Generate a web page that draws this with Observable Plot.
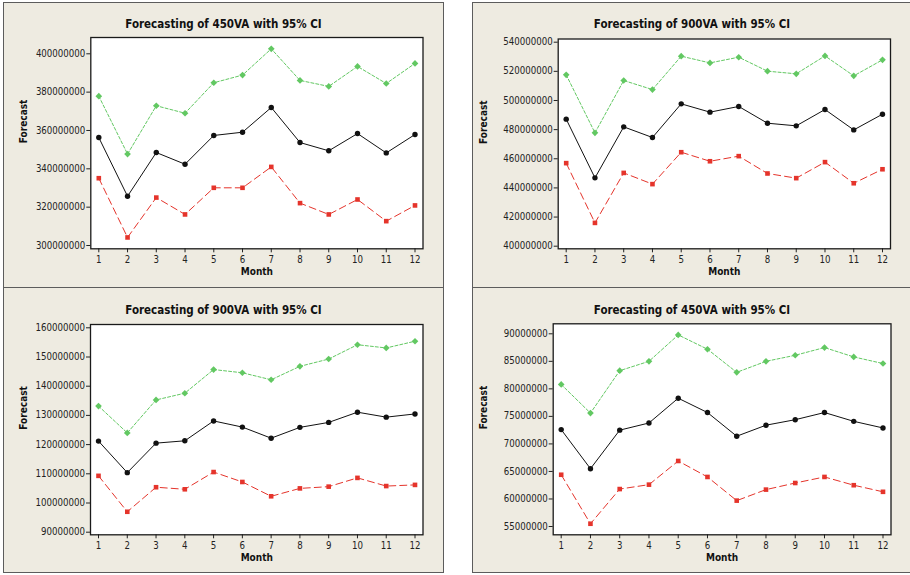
<!DOCTYPE html>
<html>
<head>
<meta charset="utf-8">
<script src="https://cdn.jsdelivr.net/npm/d3@7"></script>
<script src="https://cdn.jsdelivr.net/npm/@observablehq/plot@0.6"></script>
<style>
  html, body { margin: 0; padding: 0; background: #ffffff; }
  body { position: relative; width: 910px; height: 575px; overflow: hidden;
         font-family: "DejaVu Sans Condensed", "DejaVu Sans", sans-serif; }
  .panel { position: absolute; box-sizing: border-box; background: #eeebe1;
           border: 1.5px solid #5c5c5c; }
  .title { position: absolute; left: 0; right: 0; text-align: center; line-height: 14px;
           font-weight: bold; font-size: 11.5px; color: #111; }
  svg.chart { position: absolute; overflow: visible; }
</style>
</head>
<body>
<script>
// Forecast month index
const months = [1, 2, 3, 4, 5, 6, 7, 8, 9, 10, 11, 12];

const titles = [
  "Forecasting of 450VA with 95% CI",
  "Forecasting of 900VA with 95% CI",
  "Forecasting of 900VA with 95% CI",
  "Forecasting of 450VA with 95% CI"
];

// 450VA (upper left)
const va450aUpper    = [377.9e6, 347.7e6, 372.9e6, 369.0e6, 384.9e6, 388.9e6, 402.6e6, 386.1e6, 383.0e6, 393.4e6, 384.5e6, 395.0e6];
const va450aForecast = [356.3e6, 325.7e6, 348.5e6, 342.4e6, 357.4e6, 359.1e6, 372.0e6, 353.7e6, 349.4e6, 358.4e6, 348.3e6, 357.9e6];
const va450aLower    = [335.1e6, 304.2e6, 325.0e6, 316.2e6, 330.1e6, 330.1e6, 341.0e6, 322.1e6, 316.2e6, 324.0e6, 312.7e6, 320.9e6];
const va450aTicks    = [300e6, 320e6, 340e6, 360e6, 380e6, 400e6];

// 900VA (upper right)
const va900aUpper    = [517.6e6, 477.8e6, 513.7e6, 507.5e6, 530.4e6, 525.8e6, 529.7e6, 520.1e6, 518.3e6, 530.6e6, 516.9e6, 527.9e6];
const va900aForecast = [487.2e6, 446.9e6, 481.9e6, 474.6e6, 497.7e6, 492.0e6, 495.9e6, 484.4e6, 482.6e6, 493.8e6, 479.8e6, 490.6e6];
const va900aLower    = [457.0e6, 416.0e6, 450.3e6, 442.6e6, 464.5e6, 458.3e6, 461.8e6, 449.9e6, 446.7e6, 457.7e6, 443.2e6, 452.8e6];
const va900aTicks    = [400e6, 420e6, 440e6, 460e6, 480e6, 500e6, 520e6, 540e6];

// 900VA (lower left)
const va900bUpper    = [133.2e6, 124.0e6, 135.3e6, 137.6e6, 145.7e6, 144.6e6, 142.2e6, 146.8e6, 149.3e6, 154.2e6, 153.1e6, 155.4e6];
const va900bForecast = [121.2e6, 110.4e6, 120.5e6, 121.3e6, 128.1e6, 126.0e6, 122.2e6, 125.9e6, 127.6e6, 131.1e6, 129.4e6, 130.5e6];
const va900bLower    = [109.3e6,  97.0e6, 105.4e6, 104.7e6, 110.6e6, 107.2e6, 102.3e6, 105.0e6, 105.6e6, 108.6e6, 105.8e6, 106.2e6];
const va900bTicks    = [90e6, 100e6, 110e6, 120e6, 130e6, 140e6, 150e6, 160e6];

// 450VA (lower right)
const va450bUpper    = [80.8e6, 75.6e6, 83.3e6, 85.0e6, 89.8e6, 87.2e6, 83.0e6, 85.0e6, 86.1e6, 87.5e6, 85.8e6, 84.6e6];
const va450bForecast = [72.6e6, 65.5e6, 72.5e6, 73.8e6, 78.3e6, 75.7e6, 71.4e6, 73.4e6, 74.4e6, 75.7e6, 74.1e6, 72.9e6];
const va450bLower    = [64.4e6, 55.5e6, 61.8e6, 62.6e6, 66.9e6, 64.0e6, 59.7e6, 61.7e6, 62.9e6, 64.0e6, 62.5e6, 61.3e6];
const va450bTicks    = [55e6, 60e6, 65e6, 70e6, 75e6, 80e6, 85e6, 90e6];

const series = [
  {upper: va450aUpper, forecast: va450aForecast, lower: va450aLower, ticks: va450aTicks},
  {upper: va900aUpper, forecast: va900aForecast, lower: va900aLower, ticks: va900aTicks},
  {upper: va900bUpper, forecast: va900bForecast, lower: va900bLower, ticks: va900bTicks},
  {upper: va450bUpper, forecast: va450bForecast, lower: va450bLower, ticks: va450bTicks}
];

// Page layout of the four panels: beige box, then the chart svg placed over it
const layout = [
  {box: [3, 2, 441, 286],   svg: [0, 30, 443, 260],   m: [7, 20.5, 41.7, 90.3], inset: [16.3, 3.3], titleTop: 14},
  {box: [472, 2, 440, 286], svg: [460, 30, 450, 260], m: [8.5, 20, 41.7, 97.7], inset: [3.2, 2.6], titleTop: 14},
  {box: [3, 287, 441, 286], svg: [0, 315, 443, 260],  m: [9, 20.5, 40.7, 90],   inset: [3.3, 2.6], titleTop: 15},
  {box: [472, 287, 440, 286], svg: [460, 315, 450, 260], m: [8.3, 19.5, 40.7, 92.7], inset: [10, 8.3], titleTop: 15}
];

const GREEN = "#62c862";
const RED = "#e5342b";
const BLACK = "#111111";
const FONT = "'DejaVu Sans Condensed', 'DejaVu Sans', sans-serif";

series.forEach((s, i) => {
  const L = layout[i];
  const [bx, by, bw, bh] = L.box;
  const box = document.createElement("div");
  box.className = "panel";
  Object.assign(box.style, {left: bx + "px", top: by + "px", width: bw + "px", height: bh + "px"});
  const title = document.createElement("div");
  title.className = "title";
  title.style.top = L.titleTop + "px";
  title.textContent = titles[i];
  box.appendChild(title);
  document.body.appendChild(box);

  const rows = months.map((m, k) => ({month: m, upper: s.upper[k], forecast: s.forecast[k], lower: s.lower[k]}));
  const [sx, sy, sw, sh] = L.svg;
  const [mt, mr, mb, ml] = L.m;

  const svg = Plot.plot({
    width: sw,
    height: sh,
    marginTop: mt,
    marginRight: mr,
    marginBottom: mb,
    marginLeft: ml,
    style: {fontFamily: FONT, fontSize: "9.6px", color: "#222", background: "transparent", overflow: "visible"},
    x: {type: "linear", domain: [1, 12], insetLeft: 8, insetRight: 8},
    y: {type: "linear", domain: [s.ticks[0], s.ticks[s.ticks.length - 1]], insetTop: L.inset[0], insetBottom: L.inset[1]},
    marks: [
      Plot.frame({fill: "#ffffff"}),
      Plot.axisX({ticks: months, tickFormat: d3.format("d"), tickSize: 4, tickPadding: 3, label: null}),
      Plot.axisY({ticks: s.ticks, tickFormat: d3.format("d"), tickSize: 4, tickPadding: 1.5, label: null}),
      Plot.text(["Month"], {frameAnchor: "bottom", dy: 23, lineAnchor: "middle", fontWeight: "bold", fontSize: 10, fill: "#111"}),
      Plot.text(["Forecast"], {frameAnchor: "left", dx: 23.5 - ml, rotate: -90, lineAnchor: "middle", fontWeight: "bold", fontSize: 10, fill: "#111"}),
      Plot.line(rows, {x: "month", y: "upper", stroke: GREEN, strokeWidth: 1, strokeDasharray: "3,2"}),
      Plot.line(rows, {x: "month", y: "lower", stroke: RED, strokeWidth: 1, strokeDasharray: "7,4"}),
      Plot.line(rows, {x: "month", y: "forecast", stroke: BLACK, strokeWidth: 1}),
      Plot.dot(rows, {x: "month", y: "upper", symbol: "diamond2", r: 3, fill: GREEN, stroke: null}),
      Plot.dot(rows, {x: "month", y: "lower", symbol: "square", r: 2.6, fill: RED, stroke: null}),
      Plot.dot(rows, {x: "month", y: "forecast", symbol: "circle", r: 2.7, fill: BLACK, stroke: null}),
      Plot.frame({stroke: "#1a1a1a", strokeWidth: 1.3})
    ]
  });
  svg.classList.add("chart");
  Object.assign(svg.style, {left: sx + "px", top: sy + "px"});
  document.body.appendChild(svg);
});
</script>
</body>
</html>
